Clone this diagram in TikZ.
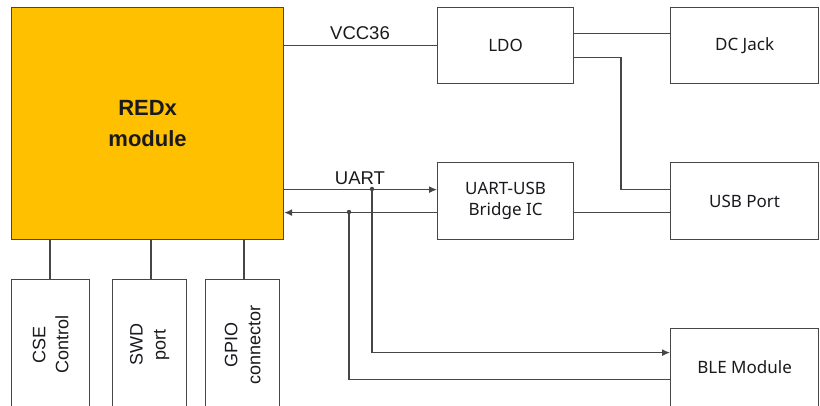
\documentclass[tikz,border=0pt]{standalone}
\usepackage{fontspec}
\setmainfont{Liberation Sans}
\newfontfamily\boxfont{Noto Sans}
\usetikzlibrary{arrows.meta}
\definecolor{gold}{RGB}{255,192,0}
\definecolor{edge}{RGB}{70,70,70}
\definecolor{txt}{RGB}{25,25,30}
\begin{document}
\begin{tikzpicture}[x=1pt,y=-1pt,
  box/.style={draw=edge, line width=1.2pt, rectangle, anchor=north west, inner sep=0pt, align=center, text=txt, font=\boxfont\fontsize{17}{21}\selectfont},
  lbl/.style={text=txt, align=center, inner sep=0pt, font=\fontsize{18.5}{22}\selectfont},
  vlbl/.style={text=txt, align=center, inner sep=0pt, rotate=90, font=\fontsize{18}{23}\selectfont},
  ln/.style={draw=edge, line width=1.2pt},
  arr/.style={ln, -{Latex[length=8pt,width=7pt]}}]
\useasboundingbox (0,0) rectangle (820,405);
\clip (0,0) rectangle (820,405);
% boxes
\node[box, fill=gold, minimum width=272pt, minimum height=232pt, font=\bfseries\fontsize{22}{31}\selectfont] (red) at (11,7) {REDx\\module};
\node[box, minimum width=136pt, minimum height=76pt] (ldo) at (437,7) {LDO};
\node[box, minimum width=148pt, minimum height=76pt] (dc) at (670,7) {DC Jack};
\node[box, minimum width=136pt, minimum height=77pt] (bridge) at (437,162) {UART-USB\\Bridge IC};
\node[box, minimum width=148pt, minimum height=77pt] (usb) at (670,162) {USB Port};
\node[box, minimum width=148pt, minimum height=78pt] (ble) at (670,328) {BLE Module};
\node[box, minimum width=78pt, minimum height=130pt] (cse) at (11,279) {};
\node[box, minimum width=74pt, minimum height=130pt] (swd) at (112,279) {};
\node[box, minimum width=74pt, minimum height=130pt] (gpio) at (205,279) {};
\node[vlbl] (cset) at (cse.center) {CSE\\Control};
\node[vlbl] (swdt) at (swd.center) {SWD\\port};
\node[vlbl] (gpiot) at (gpio.center) {GPIO\\connector};
% bottom connectors
\draw[ln] (red.south -| 50,0) -- (50,279);
\draw[ln] (red.south -| 151,0) -- (151,279);
\draw[ln] (red.south -| 244,0) -- (244,279);
% power
\draw[ln] (red.east |- ldo.west) -- (ldo.west);
\node[lbl] (vcc) at (360,33) {VCC36};
\draw[ln] ([yshift=12pt]ldo.east) -- ([yshift=12pt]dc.west);
\coordinate (p) at ([yshift=11.5pt]usb.west);
\draw[ln] ([yshift=-12pt]ldo.east) -| ([xshift=-49pt]p) -- (p);
\draw[ln] ([yshift=-11.5pt]bridge.east) -- ([yshift=-11.5pt]usb.west);
% UART
\coordinate (u1) at ([yshift=11.5pt]bridge.west);
\coordinate (u2) at ([yshift=-11.5pt]bridge.west);
\draw[arr] (red.east |- u1) -- (u1);
\draw[arr] (u2) -- (red.east |- u2);
\node[lbl] (uart) at (360,178) {UART};
\coordinate (d1) at (372,189);
\coordinate (d2) at (349,212);
\fill[edge] (d1) circle (2.2pt);
\fill[edge] (d2) circle (2.2pt);
\draw[arr] (d1) |- ([yshift=15pt]ble.west);
\draw[ln] (d2) |- ([yshift=-12pt]ble.west);
\end{tikzpicture}
\end{document}
